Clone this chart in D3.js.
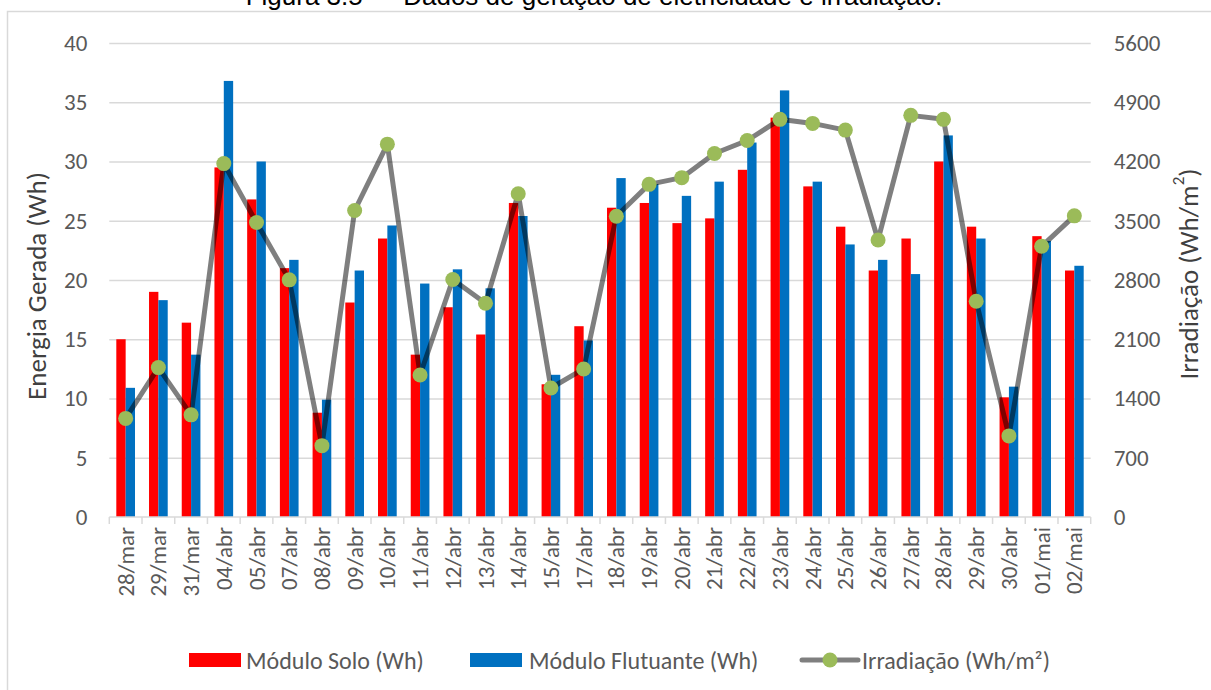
<!DOCTYPE html>
<html>
<head>
<meta charset="utf-8">
<script src="https://cdn.jsdelivr.net/npm/d3@7"></script>
<style>
    body { margin: 0; background: #fff; }
    svg { display: block; }
</style>
</head>
<body>
<svg id="chart" width="1211" height="690"></svg>
<script>
const categories = ["28/mar", "29/mar", "31/mar", "04/abr", "05/abr", "07/abr", "08/abr", "09/abr",
    "10/abr", "11/abr", "12/abr", "13/abr", "14/abr", "15/abr", "17/abr", "18/abr", "19/abr",
    "20/abr", "21/abr", "22/abr", "23/abr", "24/abr", "25/abr", "26/abr", "27/abr", "28/abr",
    "29/abr", "30/abr", "01/mai", "02/mai"];

const moduloSolo = [15.0, 19.0, 16.4, 29.5, 26.8, 21.0, 8.8, 18.1, 23.5, 13.7, 17.7, 15.4, 26.5, 11.2,
    16.1, 26.1, 26.5, 24.8, 25.2, 29.3, 33.7, 27.9, 24.5, 20.8, 23.5, 30.0, 24.5, 10.1, 23.7, 20.8];

const moduloFlutuante = [10.9, 18.3, 13.7, 36.8, 30.0, 21.7, 9.9, 20.8, 24.6, 19.7, 20.9, 19.3, 25.4, 12.0,
    14.9, 28.6, 28.1, 27.1, 28.3, 31.6, 36.0, 28.3, 23.0, 21.7, 20.5, 32.2, 23.5, 11.0, 23.3, 21.2];

const irradiacao = [1165, 1765, 1207, 4175, 3479, 2802, 843, 3621, 4405, 1678, 2806, 2525, 3819, 1524,
    1749, 3554, 3930, 4009, 4294, 4448, 4698, 4650, 4571, 3273, 4745, 4698, 2549, 958, 3198, 3558];

const leftTicks = [0, 5, 10, 15, 20, 25, 30, 35, 40];
const rightTicks = [0, 700, 1400, 2100, 2800, 3500, 4200, 4900, 5600];

const RED = "#ff0000", BLUE = "#0070c0", GREEN = "#9bbb59";
const FONT = "Carlito, Calibri, 'Open Sans', sans-serif";

const svg = d3.select("#chart");
const plotLeft = 109.3, plotRight = 1090.7, plotTop = 43, plotBottom = 517;

// frame + caption (cut by the top edge, as in the source)
svg.append("rect")
    .attr("x", 7.5).attr("y", 11.5)
    .attr("width", 1220).attr("height", 700)
    .attr("fill", "none").attr("stroke", "#d9d9d9").attr("stroke-width", 1.5);

svg.append("text")
    .attr("x", 594).attr("y", 5)
    .attr("text-anchor", "middle")
    .attr("font-family", "'Liberation Sans', Arial, sans-serif")
    .attr("font-size", 26)
    .attr("fill", "#000")
    .text("Figura 3.5 — Dados de geração de eletricidade e irradiação.");

const x = d3.scaleBand().domain(categories).range([plotLeft, plotRight]).paddingInner(0).paddingOuter(0);
const bw = x.bandwidth() / 3.5;
const xs = d3.scaleBand().domain(["solo", "flut"]).range([0, 2 * bw]);
const off = (x.bandwidth() - 2 * bw) / 2;

const yL = d3.scaleLinear().domain([0, 40]).range([plotBottom, plotTop]);
const yR = d3.scaleLinear().domain([0, 5600]).range([plotBottom, plotTop]);

// gridlines
svg.append("g")
    .attr("transform", `translate(${plotLeft},0)`)
    .call(d3.axisLeft(yL).tickValues(leftTicks.slice(1)).tickSize(-(plotRight - plotLeft)).tickFormat(""))
    .call(g => g.select(".domain").remove())
    .call(g => g.selectAll("line").attr("stroke", "#d9d9d9").attr("stroke-width", 1.5));

// left axis labels
svg.append("g")
    .attr("transform", `translate(${plotLeft},0)`)
    .call(d3.axisLeft(yL).tickValues(leftTicks).tickSize(0).tickPadding(22).tickFormat(d3.format("d")))
    .call(g => g.select(".domain").remove())
    .call(g => g.selectAll("text").attr("font-family", FONT).attr("font-size", 23).attr("fill", "#595959"));

// right axis labels
svg.append("g")
    .attr("transform", `translate(${plotRight},0)`)
    .call(d3.axisRight(yR).tickValues(rightTicks).tickSize(0).tickPadding(23).tickFormat(d3.format("d")))
    .call(g => g.select(".domain").remove())
    .call(g => g.selectAll("text").attr("font-family", FONT).attr("font-size", 23).attr("fill", "#595959"));

// bars
const groups = svg.append("g").selectAll("g")
    .data(categories)
    .join("g")
    .attr("transform", d => `translate(${x(d) + off},0)`);

groups.append("rect")
    .attr("x", xs("solo")).attr("width", xs.bandwidth())
    .attr("y", (d, i) => yL(moduloSolo[i]))
    .attr("height", (d, i) => plotBottom - yL(moduloSolo[i]))
    .attr("fill", RED);

groups.append("rect")
    .attr("x", xs("flut")).attr("width", xs.bandwidth())
    .attr("y", (d, i) => yL(moduloFlutuante[i]))
    .attr("height", (d, i) => plotBottom - yL(moduloFlutuante[i]))
    .attr("fill", BLUE);

// x axis baseline with boundary ticks
const xAxis = svg.append("g").attr("transform", `translate(0,${plotBottom})`);
xAxis.append("line")
    .attr("x1", plotLeft).attr("x2", plotRight)
    .attr("stroke", "#d9d9d9").attr("stroke-width", 1.5);
xAxis.selectAll("line.tk")
    .data(categories.concat(["end"]))
    .join("line")
    .attr("class", "tk")
    .attr("x1", (d, i) => i < categories.length ? x(d) : plotRight)
    .attr("x2", (d, i) => i < categories.length ? x(d) : plotRight)
    .attr("y1", 0).attr("y2", 7)
    .attr("stroke", "#d9d9d9").attr("stroke-width", 1.5);

xAxis.selectAll("text")
    .data(categories)
    .join("text")
    .attr("transform", d => `translate(${x(d) + x.bandwidth() / 2},10) rotate(-90)`)
    .attr("text-anchor", "end")
    .attr("dominant-baseline", "central")
    .attr("font-family", FONT).attr("font-size", 23).attr("fill", "#595959")
    .text(d => d);

// irradiation line
const line = d3.line()
    .x((d, i) => x(categories[i]) + x.bandwidth() / 2)
    .y(d => yR(d));

svg.append("path")
    .datum(irradiacao)
    .attr("d", line)
    .attr("fill", "none")
    .attr("stroke", "#000")
    .attr("stroke-opacity", 0.5)
    .attr("stroke-width", 5)
    .attr("stroke-linejoin", "round")
    .attr("stroke-linecap", "round");

svg.append("g").selectAll("circle")
    .data(irradiacao)
    .join("circle")
    .attr("cx", (d, i) => x(categories[i]) + x.bandwidth() / 2)
    .attr("cy", d => yR(d))
    .attr("r", 7.5)
    .attr("fill", GREEN);

// axis titles
svg.append("text")
    .attr("transform", "translate(36,286) rotate(-90)")
    .attr("text-anchor", "middle")
    .attr("dominant-baseline", "central")
    .attr("font-family", FONT).attr("font-size", 27).attr("fill", "#404040")
    .text("Energia Gerada (Wh)");

const rt = svg.append("text")
    .attr("transform", "translate(1188,274) rotate(-90)")
    .attr("text-anchor", "middle")
    .attr("dominant-baseline", "central")
    .attr("font-family", FONT).attr("font-size", 27).attr("fill", "#404040");
rt.append("tspan").text("Irradiação (Wh/m");
rt.append("tspan").attr("font-size", 17).attr("dy", -10).text("2");
rt.append("tspan").attr("dy", 10).text(")");

// legend
const legendY = 660;
const legendItems = [
    { label: "Módulo Solo (Wh)", kind: "bar", color: RED, sx: 189, tx: 246 },
    { label: "Módulo Flutuante (Wh)", kind: "bar", color: BLUE, sx: 470, tx: 529 },
    { label: "Irradiação (Wh/m²)", kind: "line", color: GREEN, sx: 802, tx: 862 }
];
const lg = svg.append("g").selectAll("g").data(legendItems).join("g");
lg.filter(d => d.kind === "bar").append("rect")
    .attr("x", d => d.sx).attr("y", legendY - 7)
    .attr("width", 52).attr("height", 14)
    .attr("fill", d => d.color);
lg.filter(d => d.kind === "line").append("line")
    .attr("x1", d => d.sx).attr("x2", d => d.sx + 56)
    .attr("y1", legendY).attr("y2", legendY)
    .attr("stroke", "#000").attr("stroke-opacity", 0.5)
    .attr("stroke-width", 5).attr("stroke-linecap", "round");
lg.filter(d => d.kind === "line").append("circle")
    .attr("cx", d => d.sx + 28).attr("cy", legendY).attr("r", 7.5)
    .attr("fill", d => d.color);
lg.append("text")
    .attr("x", d => d.tx).attr("y", legendY)
    .attr("dominant-baseline", "central")
    .attr("font-family", FONT).attr("font-size", 24).attr("fill", "#595959")
    .text(d => d.label);
</script>
</body>
</html>
